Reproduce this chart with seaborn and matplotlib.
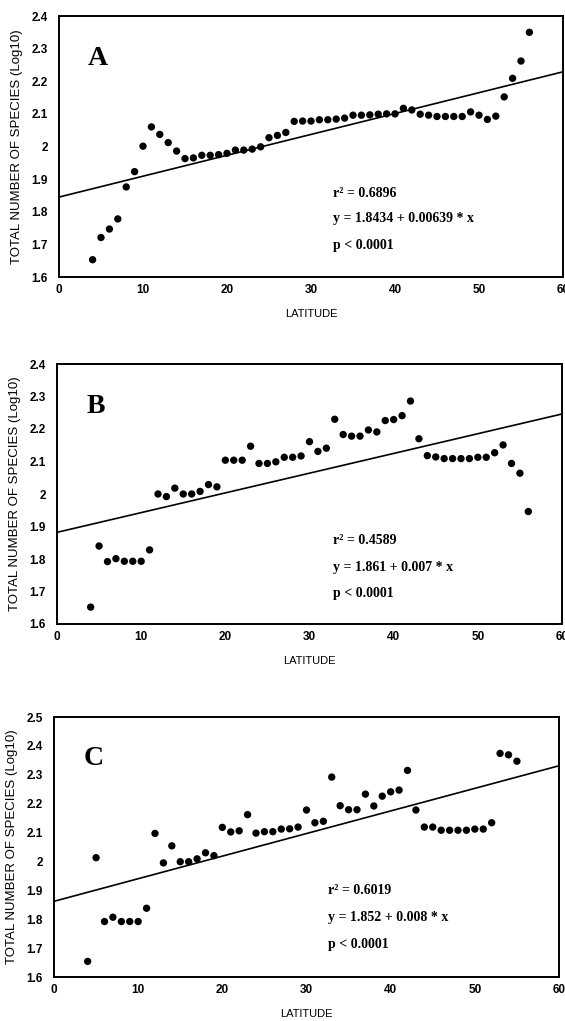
import matplotlib
matplotlib.use("Agg")
import matplotlib.pyplot as plt
import matplotlib.ticker as ticker
import seaborn as sns
import pandas as pd

# latitude bands (one point per degree)
lat_a = list(range(4, 57))
lat_b = list(range(4, 57))
lat_c = list(range(4, 56))

# total number of species (log10)
species_a = [1.653, 1.721, 1.747, 1.778, 1.876, 1.923, 2.001, 2.060,
             2.037, 2.012, 1.986, 1.963, 1.965, 1.973, 1.973, 1.975,
             1.979, 1.989, 1.989, 1.992, 1.999, 2.027, 2.034, 2.043, 2.077,
             2.078, 2.078, 2.082, 2.082, 2.084, 2.087, 2.096, 2.096, 2.097,
             2.099, 2.100, 2.100, 2.117, 2.112,
             2.099, 2.096, 2.092, 2.092, 2.092, 2.092, 2.106, 2.096, 2.083,
             2.093, 2.152, 2.209, 2.262, 2.350]
species_b = [1.652, 1.840, 1.792, 1.801, 1.793, 1.793, 1.793, 1.828,
             2.000, 1.992, 2.018, 2.000, 2.000, 2.008, 2.029, 2.022,
             2.104, 2.104, 2.104, 2.147, 2.094, 2.094, 2.099, 2.113, 2.113,
             2.117, 2.161, 2.131, 2.141, 2.230, 2.183, 2.178, 2.178, 2.197,
             2.191, 2.226, 2.229, 2.241, 2.286,
             2.170, 2.118, 2.114, 2.109, 2.109, 2.109, 2.109, 2.113, 2.113,
             2.127, 2.151, 2.094, 2.064, 1.946]
species_c = [1.654, 2.013, 1.792, 1.807, 1.792, 1.792, 1.792, 1.838,
             2.097, 1.995, 2.054, 1.999, 1.999, 2.009, 2.030, 2.020,
             2.118, 2.102, 2.106, 2.162, 2.098, 2.103, 2.103, 2.112, 2.113,
             2.119, 2.178, 2.134, 2.139, 2.292, 2.193, 2.179, 2.179, 2.233,
             2.192, 2.226, 2.241, 2.247, 2.315,
             2.178, 2.119, 2.119, 2.108, 2.108, 2.108, 2.108, 2.112, 2.112,
             2.134, 2.374, 2.369, 2.347]

# fitted lines as drawn (intercept, slope)
fit_a = (1.845, 0.00640)
fit_b = (1.882, 0.00607)
fit_c = (1.862, 0.00782)

panel_letters = ["A", "B", "C"]
stats_text = [
    ["r\u00b2 = 0.6896", "y = 1.8434 + 0.00639 * x", "p < 0.0001"],
    ["r\u00b2 = 0.4589", "y = 1.861 + 0.007 * x", "p < 0.0001"],
    ["r\u00b2 = 0.6019", "y = 1.852 + 0.008 * x", "p < 0.0001"],
]
stats_x = [32.6, 32.8, 32.5]
stats_y = [[1.857, 1.778, 1.697], [1.856, 1.773, 1.694], [1.898, 1.805, 1.712]]
letter_pos = [(4.6, 2.27), (4.6, 2.268), (4.66, 2.358)]
y_ranges = [(1.6, 2.4), (1.6, 2.4), (1.6, 2.5)]

sns.set_style("white")
plt.rcParams['font.family'] = ['Liberation Sans', 'DejaVu Sans']

fig = plt.figure(figsize=(5.65, 10.21), dpi=100)
boxes = [
    [59 / 565, 1 - 277 / 1021, 504 / 565, 261 / 1021],
    [57 / 565, 1 - 624 / 1021, 505 / 565, 260 / 1021],
    [54 / 565, 1 - 977 / 1021, 505 / 565, 260 / 1021],
]

panels = [(lat_a, species_a, fit_a), (lat_b, species_b, fit_b), (lat_c, species_c, fit_c)]

for i, (lat, species, fit) in enumerate(panels):
    ax = fig.add_axes(boxes[i])
    df = pd.DataFrame({"LATITUDE": lat, "species": species})
    line = pd.DataFrame({"LATITUDE": [0, 60]})
    line["fit"] = fit[0] + fit[1] * line["LATITUDE"]

    sns.lineplot(data=line, x="LATITUDE", y="fit", color="black", linewidth=1.2, ax=ax)
    sns.scatterplot(data=df, x="LATITUDE", y="species", color="black", s=28,
                    edgecolor="none", ax=ax, zorder=3)

    ax.set_xlim(0, 60)
    ax.set_ylim(*y_ranges[i])
    ax.xaxis.set_major_locator(ticker.MultipleLocator(10))
    ax.yaxis.set_major_locator(ticker.MultipleLocator(0.1))
    ax.yaxis.set_major_formatter(ticker.FuncFormatter(lambda v, p: "%g" % round(v, 2)))
    ax.tick_params(direction="in", length=2, width=0.8, colors="black", labelsize=8.5)
    ax.tick_params(axis="y", pad=8)
    ax.tick_params(axis="x", pad=5)
    for lab in ax.get_xticklabels() + ax.get_yticklabels():
        lab.set_fontweight("bold")
    for sp in ax.spines.values():
        sp.set_color("black")
        sp.set_linewidth(1.4)

    ax.set_xlabel("LATITUDE", fontsize=8, color="black")
    ax.set_ylabel("TOTAL NUMBER OF SPECIES (Log10)", fontsize=9.5, color="black")
    ax.xaxis.set_label_coords(0.5, -0.123)
    ax.yaxis.set_label_coords(-0.071, 0.5)

    ax.text(letter_pos[i][0], letter_pos[i][1], panel_letters[i], fontsize=20,
            fontweight="bold", family=["Liberation Serif", "DejaVu Serif"],
            ha="center", va="center", color="black")
    for txt, yy in zip(stats_text[i], stats_y[i]):
        ax.text(stats_x[i], yy, txt, fontsize=10, fontweight="bold",
                family=["Liberation Serif", "DejaVu Serif"],
                ha="left", va="center", color="black")

fig.savefig("out.png", dpi=100)
